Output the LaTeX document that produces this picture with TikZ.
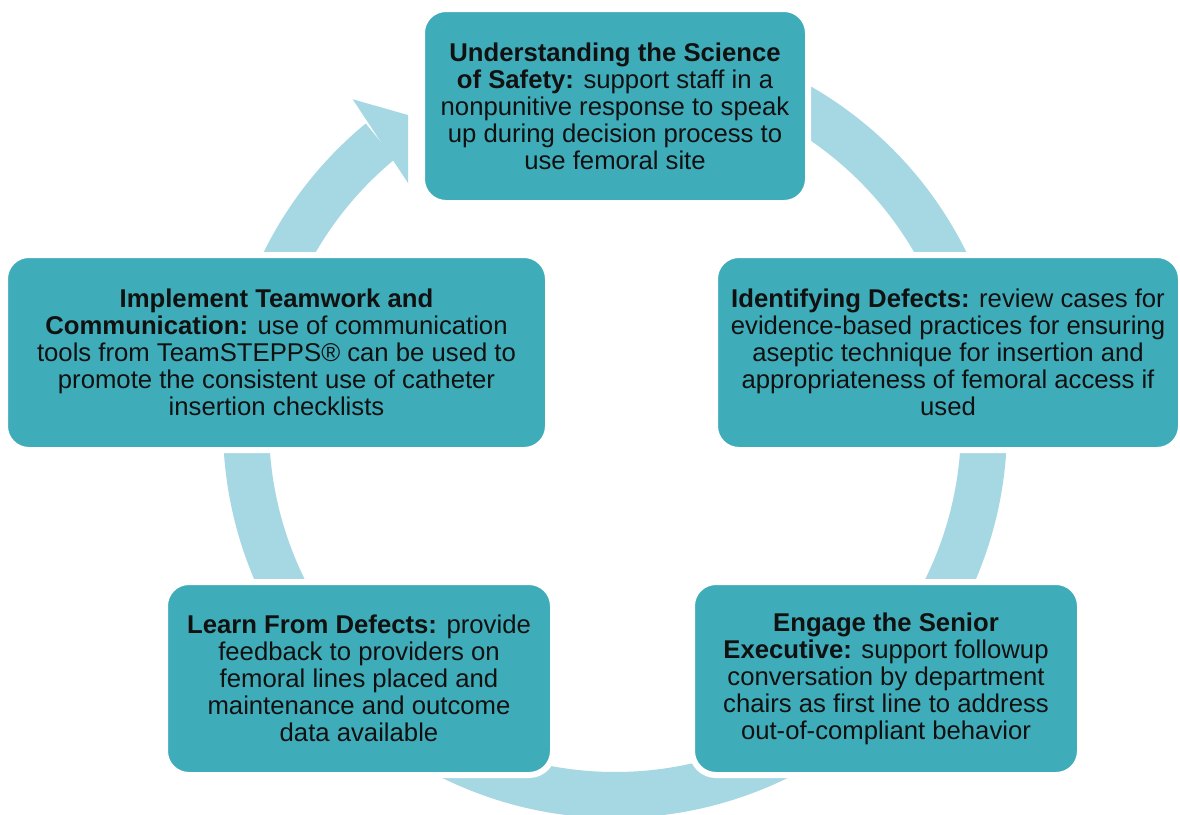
\documentclass[tikz,border=0pt]{standalone}
\usepackage{fontspec}
\setmainfont{Liberation Sans}
\usetikzlibrary{calc}
\definecolor{boxteal}{HTML}{3FACB9}
\definecolor{ringblue}{HTML}{A6D8E4}
\definecolor{txt}{HTML}{111111}
\tikzset{
  stage/.style={fill=boxteal, draw=white, line width=6pt, rounded corners=24pt,
    align=center, text=txt, inner sep=0pt,
    font=\fontsize{25.7}{27}\selectfont},
  ringfill/.style={fill=ringblue}
}
\begin{document}
\begin{tikzpicture}[x=1pt,y=-1pt]
\fill[white] (0,0) rectangle (1180,814);
\useasboundingbox (0,0) rectangle (1180,814);
\coordinate (c) at (615,426);
% ring
\fill[ringfill] ($(c)+(-60:392)$) arc[start angle=-60,end angle=230.5,radius=392]
  -- ($(c)+(230.5:346)$) arc[start angle=230.5,end angle=-60,radius=346] -- cycle;
% arrow head (clipped)
\begin{scope}
\clip (0,0) rectangle (408,814);
\coordinate (hb1) at (352.7,99.3);
\coordinate (htip) at (417.4,117.7);
\coordinate (hb2) at (410,186);
\fill[ringfill] (hb1) -- (htip) -- (hb2) -- cycle;
\end{scope}
% boxes
\node[stage, minimum width=386pt, minimum height=194pt] (top) at (615,106)
  {\textbf{Understanding the Science}\\
   \textbf{of Safety:} support staff in a\\
   nonpunitive response to speak\\
   up during decision process to\\
   use femoral site};
\node[stage, minimum width=543pt, minimum height=195pt] (left) at (276.5,352.5)
  {\textbf{Implement Teamwork and}\\
   \textbf{Communication:} use of communication\\
   tools from TeamSTEPPS® can be used to\\
   promote the consistent use of catheter\\
   insertion checklists};
\node[stage, minimum width=466pt, minimum height=195pt] (right) at (948,352.5)
  {\textbf{Identifying Defects:} review cases for\\
   evidence-based practices for ensuring\\
   aseptic technique for insertion and\\
   appropriateness of femoral access if\\
   used};
\node[stage, minimum width=388pt, minimum height=193pt] (bl) at (359,678.5)
  {\textbf{Learn From Defects:} provide\\
   feedback to providers on\\
   femoral lines placed and\\
   maintenance and outcome\\
   data available};
\node[stage, minimum width=388pt, minimum height=193pt] (br) at (886,678.5)
  {\textbf{Engage the Senior}\\
   \textbf{Executive:} support followup\\
   conversation by department\\
   chairs as first line to address\\
   out-of-compliant behavior};
\end{tikzpicture}
\end{document}
